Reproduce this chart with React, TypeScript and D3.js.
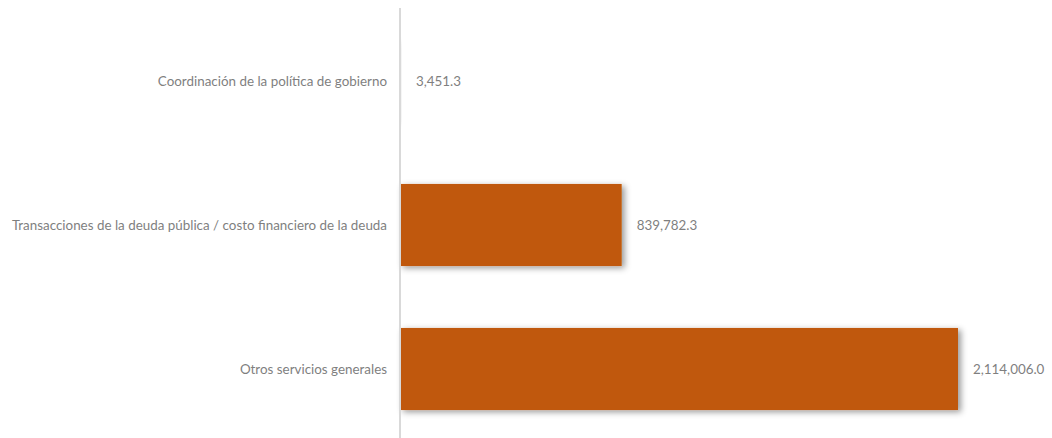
import React from "react";
import * as d3 from "d3";

const categories = [
  "Coordinación de la política de gobierno",
  "Transacciones de la deuda pública / costo financiero de la deuda",
  "Otros servicios generales",
];
const values = [3451.3, 839782.3, 2114006.0];

const W = 1052;
const H = 438;
const x0 = 400;

export default function App() {
  const x = d3.scaleLinear().domain([0, 2114006.0]).range([x0, 958]);
  const y = d3
    .scaleBand<string>()
    .domain(categories)
    .range([9, 441])
    .paddingInner(0.43)
    .paddingOuter(0.215);
  const fmt = d3.format(",.1f");
  return (
    <div style={{ position: "absolute", left: 0, top: 0 }}>
      <svg width={W} height={H} style={{ display: "block", fontFamily: "Lato, 'Open Sans', sans-serif" }}>
        <defs>
          <filter id="sh" x="-10%" y="-20%" width="130%" height="150%">
            <feDropShadow dx="3" dy="2" stdDeviation="3" floodColor="#000" floodOpacity="0.4" />
          </filter>
        </defs>
        <rect width={W} height={H} fill="#fff" />
        {categories.map((c, i) => {
          const yy = y(c)!;
          const bw = y.bandwidth();
          const xe = x(values[i]);
          return (
            <g key={c}>
              <rect x={x0} y={yy} width={Math.max(0, xe - x0)} height={bw} fill="#c0590a" filter="url(#sh)" />
              <text x={387} y={yy + bw / 2} dy="0.35em" textAnchor="end" fontSize={13.4} fill="#7f7f7f">
                {c}
              </text>
              <text x={xe + 15} y={yy + bw / 2} dy="0.35em" textAnchor="start" fontSize={13.4} fill="#7f7f7f">
                {fmt(values[i])}
              </text>
            </g>
          );
        })}
        <line x1={x0} x2={x0} y1={8} y2={438} stroke="#d9d9d9" strokeWidth={2} />
      </svg>
    </div>
  );
}
